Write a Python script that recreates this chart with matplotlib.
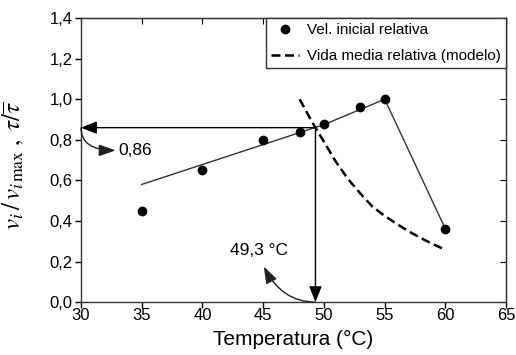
import numpy as np
import matplotlib
matplotlib.use("Agg")
import matplotlib.pyplot as plt

plt.rcParams['font.family'] = ['Liberation Sans', 'DejaVu Sans']
plt.rcParams['mathtext.fontset'] = 'stix'

# data
temp = [35, 40, 45, 48, 50, 53, 55, 60]
vel = [0.45, 0.65, 0.80, 0.84, 0.88, 0.96, 1.00, 0.36]

# guide line through the points
fit_t = [35, 50, 55, 60]
fit_v = [0.58, 0.875, 1.00, 0.36]

# model curve (dashed)
model_t = [48, 49, 50, 51, 52, 53, 54, 55, 56, 57, 58, 59, 60]
model_v = [1.00, 0.89, 0.79, 0.69, 0.605, 0.535, 0.47, 0.425, 0.385, 0.348, 0.315, 0.285, 0.258]

t_opt = 49.3
v_opt = 0.86

fig = plt.figure(figsize=(5.16, 3.55), dpi=100)
ax = fig.add_axes([0.157, 0.149, 0.824, 0.8])

ax.plot(fit_t, fit_v, color='#333333', lw=1.0, zorder=2)
ax.plot(temp, vel, 'o', color='black', ms=6, label='Vel. inicial relativa', zorder=3)
ax.plot(model_t, model_v, color='black', lw=1.8, dashes=(3.6, 1.8), label='Vida media relativa (modelo)', zorder=2)

# arrows to the axes
head = '-|>,head_length=0.8,head_width=0.32'
ax.annotate('', xy=(30, v_opt), xytext=(t_opt, v_opt),
            arrowprops=dict(arrowstyle=head, color='black', lw=1.0, mutation_scale=12, shrinkA=0, shrinkB=0))
ax.annotate('', xy=(t_opt, 0), xytext=(t_opt, v_opt),
            arrowprops=dict(arrowstyle=head, color='black', lw=1.0, mutation_scale=12, shrinkA=0, shrinkB=0))

# curved arrows to the labels
head2 = '-|>,head_length=0.85,head_width=0.3'
ax.annotate('', xy=(32.85, 0.748), xytext=(30, v_opt),
            arrowprops=dict(arrowstyle=head2, color='#222222', lw=1.0, mutation_scale=12,
                            shrinkA=0, shrinkB=0, connectionstyle='angle3,angleA=90,angleB=0'))
ax.annotate('', xy=(45.05, 0.175), xytext=(t_opt, 0),
            arrowprops=dict(arrowstyle=head2, color='#222222', lw=1.0, mutation_scale=12,
                            shrinkA=0, shrinkB=0, connectionstyle='angle3,angleA=0,angleB=117'))
ax.text(33.05, 0.749, '0,86', fontsize=12.5, va='center', ha='left')
ax.text(42.25, 0.252, '49,3 °C', fontsize=12.5, va='center', ha='left')

ax.set_xlim(30, 65)
ax.set_ylim(0, 1.4)
ax.set_xticks(np.arange(30, 66, 5))
ax.set_yticks(np.arange(0, 1.41, 0.2))
ax.set_yticklabels([f"{v:.1f}".replace('.', ',') for v in np.arange(0, 1.41, 0.2)])
ax.tick_params(direction='out', length=4, width=1, labelsize=12, pad=2)
ax.tick_params(axis='x', pad=0)
for s in ax.spines.values():
    s.set_linewidth(1.0)
    s.set_color('#333333')

top = ax.secondary_xaxis('top')
top.set_xticks(np.arange(30, 66, 5))
top.tick_params(direction='in', length=4, labeltop=False)
right = ax.secondary_yaxis('right')
right.set_yticks(np.arange(0, 1.41, 0.2))
right.tick_params(direction='in', length=4, labelright=False)

ax.set_xlabel('Temperatura (°C)', fontsize=15, labelpad=5)
ax.set_ylabel(r'$v_i\,/\,v_{i\,\max}\;,\;\tau/\overline{\tau}$', fontsize=18)
ax.yaxis.set_label_coords(-0.13, 0.48)

leg = ax.legend(loc='upper right', fontsize=11, frameon=True, fancybox=False, edgecolor='#333333',
                borderaxespad=0, handlelength=1.8, handletextpad=0.55, borderpad=0.35,
                labelspacing=0.75, framealpha=1)
leg.get_frame().set_linewidth(1.0)

fig.savefig('out.png', dpi=100)
